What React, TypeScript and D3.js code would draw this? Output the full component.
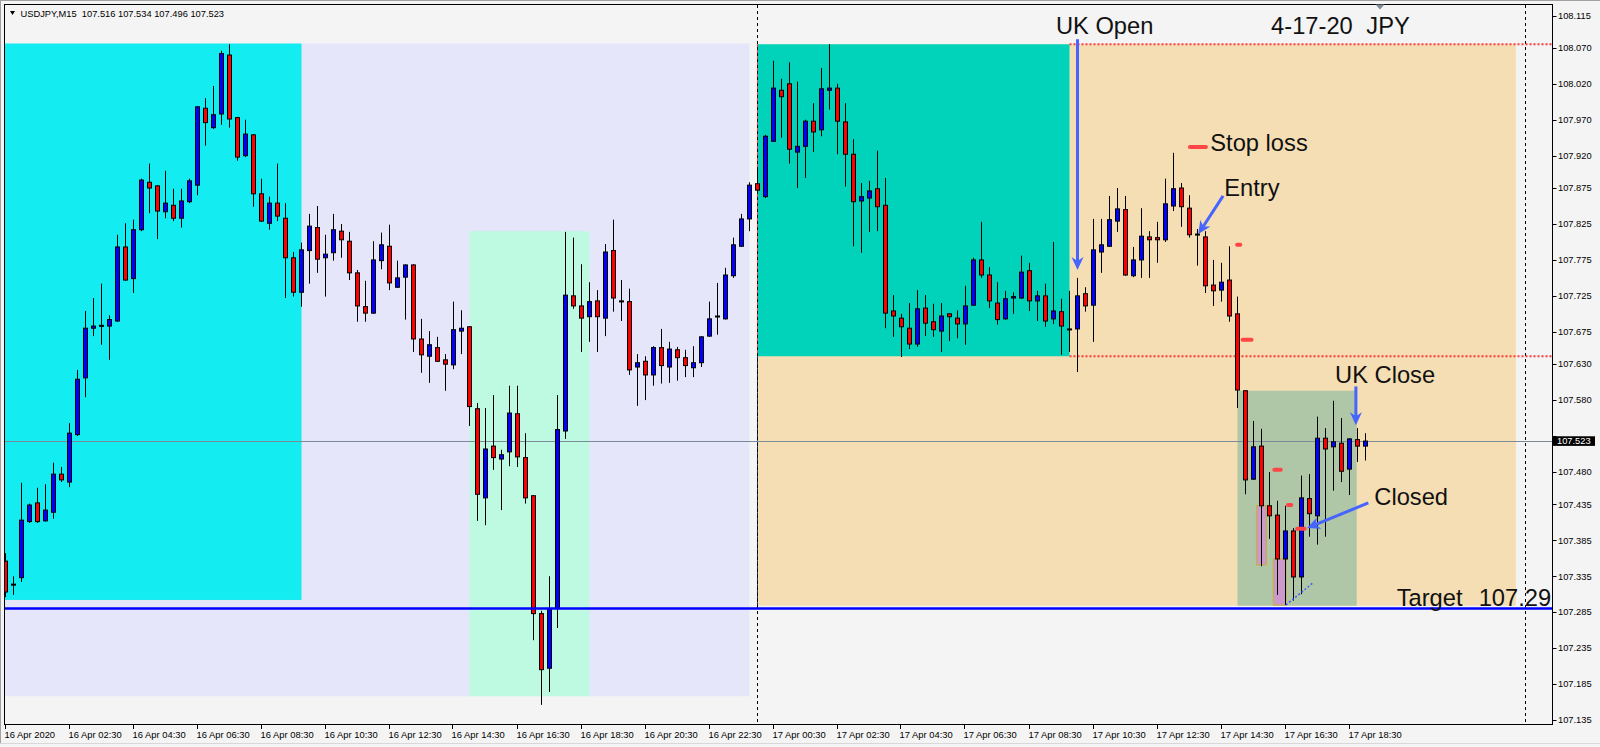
import React from 'react';
import * as d3 from 'd3';

// ---- Data: USDJPY M15, 16 Apr 00:30 -> 17 Apr 19:00 (bar index = 15-minute step) ----
const openP = [107.356,107.324,107.333,107.411,107.437,107.412,107.424,107.477,107.466,107.532,
107.611,107.680,107.683,107.683,107.690,107.793,107.749,107.817,107.883,107.878,
107.842,107.851,107.833,107.856,107.879,107.986,107.959,107.978,108.060,107.973,
107.920,107.949,107.867,107.826,107.854,107.833,107.778,107.730,107.788,107.820,
107.778,107.785,107.815,107.801,107.757,107.710,107.701,107.774,107.794,107.737,
107.751,107.768,107.665,107.641,107.653,107.636,107.629,107.676,107.682,107.568,
107.444,107.516,107.498,107.508,107.561,107.500,107.447,107.283,107.207,107.290,
107.537,107.725,107.711,107.696,107.718,107.694,107.788,107.718,107.717,107.626,
107.634,107.615,107.653,107.626,107.650,107.639,107.625,107.632,107.669,107.696,
107.693,107.753,107.794,107.832,107.881,107.863,107.940,108.011,108.020,107.925,
107.933,107.968,107.956,108.011,108.014,107.967,107.922,107.857,107.861,107.874,
107.851,107.704,107.694,107.680,107.658,107.708,107.689,107.676,107.700,107.694,
107.686,107.712,107.775,107.754,107.715,107.693,107.722,107.722,107.760,107.718,
107.725,107.693,107.703,107.679,107.679,107.728,107.712,107.786,107.794,107.829,
107.845,107.753,107.775,107.807,107.806,107.803,107.850,107.875,107.847,107.810,
107.807,107.740,107.733,107.747,107.700,107.593,107.470,107.516,107.433,107.420,
107.359,107.398,107.334,107.443,107.419,107.527,107.515,107.520,107.484,107.525,
107.516];

const highP = [107.367,107.335,107.465,107.436,107.458,107.463,107.493,107.487,107.548,107.622,
107.704,107.722,107.742,107.698,107.810,107.826,107.831,107.888,107.909,107.879,
107.899,107.874,107.874,107.888,107.989,108.000,108.017,108.066,108.075,107.974,
107.970,107.950,107.888,107.863,107.909,107.854,107.786,107.799,107.839,107.850,
107.810,107.839,107.825,107.814,107.761,107.746,107.801,107.813,107.824,107.774,
107.769,107.769,107.693,107.676,107.668,107.644,107.717,107.705,107.683,107.576,
107.569,107.587,107.511,107.600,107.600,107.534,107.448,107.287,107.335,107.587,
107.814,107.806,107.769,107.744,107.733,107.797,107.831,107.747,107.735,107.644,
107.641,107.655,107.679,107.661,107.654,107.650,107.655,107.669,107.717,107.743,
107.764,107.806,107.839,107.883,107.902,107.949,108.052,108.027,108.050,108.023,
107.970,107.993,108.042,108.075,108.020,107.993,107.943,107.882,107.885,107.927,
107.889,107.726,107.700,107.715,107.733,107.726,107.714,107.715,107.701,107.705,
107.739,107.778,107.828,107.765,107.744,107.732,107.730,107.781,107.771,107.732,
107.742,107.800,107.721,107.732,107.750,107.737,107.832,107.832,107.864,107.875,
107.864,107.793,107.847,107.815,107.828,107.888,107.924,107.882,107.865,107.818,
107.815,107.775,107.771,107.794,107.724,107.594,107.551,107.540,107.480,107.440,
107.433,107.402,107.475,107.477,107.557,107.541,107.579,107.555,107.527,107.541,
107.534];

const lowP = [107.306,107.309,107.327,107.409,107.409,107.411,107.415,107.466,107.459,107.530,
107.584,107.669,107.657,107.636,107.689,107.746,107.729,107.815,107.840,107.804,
107.833,107.829,107.820,107.854,107.865,107.934,107.957,107.963,107.959,107.913,
107.918,107.849,107.828,107.817,107.829,107.722,107.724,107.710,107.742,107.757,
107.724,107.774,107.778,107.747,107.689,107.689,107.700,107.762,107.733,107.736,
107.692,107.647,107.618,107.604,107.633,107.593,107.623,107.644,107.544,107.412,
107.406,107.483,107.427,107.488,107.487,107.436,107.246,107.156,107.174,107.263,
107.526,107.707,107.647,107.661,107.647,107.669,107.703,107.690,107.615,107.572,
107.580,107.600,107.603,107.604,107.607,107.612,107.612,107.626,107.668,107.671,
107.692,107.750,107.793,107.815,107.871,107.861,107.939,107.945,107.909,107.875,
107.889,107.925,107.947,107.984,107.922,107.877,107.794,107.785,107.814,107.815,
107.680,107.668,107.640,107.651,107.654,107.669,107.668,107.647,107.662,107.666,
107.657,107.711,107.750,107.708,107.685,107.692,107.700,107.721,107.704,107.690,
107.682,107.686,107.643,107.647,107.619,107.703,107.661,107.757,107.793,107.814,
107.753,107.751,107.750,107.750,107.771,107.800,107.843,107.821,107.806,107.767,
107.729,107.711,107.717,107.689,107.569,107.449,107.469,107.349,107.387,107.309,
107.295,107.301,107.310,107.390,107.379,107.390,107.454,107.466,107.448,107.494,
107.496];

const closeP = [107.313,107.323,107.413,107.434,107.411,107.427,107.477,107.469,107.534,107.609,
107.680,107.683,107.684,107.692,107.793,107.747,107.817,107.886,107.875,107.843,
107.854,107.833,107.857,107.885,107.988,107.966,107.977,108.062,107.971,107.918,
107.950,107.867,107.829,107.854,107.836,107.778,107.730,107.789,107.822,107.776,
107.783,107.817,107.803,107.757,107.711,107.701,107.775,107.796,107.743,107.750,
107.768,107.665,107.643,107.657,107.634,107.630,107.678,107.680,107.571,107.449,
107.512,107.500,107.504,107.562,107.501,107.444,107.283,107.205,107.290,107.539,
107.726,107.711,107.694,107.717,107.696,107.786,107.722,107.717,107.622,107.632,
107.615,107.653,107.628,107.651,107.639,107.628,107.632,107.668,107.693,107.697,
107.754,107.796,107.832,107.879,107.872,107.947,108.014,108.002,107.929,107.933,
107.968,107.953,108.013,108.014,107.968,107.922,107.856,107.863,107.871,107.849,
107.701,107.697,107.682,107.658,107.707,107.687,107.678,107.697,107.696,107.686,
107.711,107.775,107.754,107.718,107.692,107.721,107.724,107.758,107.718,107.725,
107.690,107.704,107.683,107.678,107.725,107.711,107.789,107.796,107.831,107.846,
107.754,107.775,107.808,107.803,107.803,107.853,107.874,107.849,107.810,107.811,
107.739,107.732,107.744,107.697,107.594,107.469,107.515,107.433,107.419,107.359,
107.398,107.334,107.444,107.422,107.527,107.512,107.522,107.481,107.526,107.516,
107.523];

const timeLabels = ["16 Apr 2020","16 Apr 02:30","16 Apr 04:30","16 Apr 06:30","16 Apr 08:30",
"16 Apr 10:30","16 Apr 12:30","16 Apr 14:30","16 Apr 16:30","16 Apr 18:30","16 Apr 20:30",
"16 Apr 22:30","17 Apr 00:30","17 Apr 02:30","17 Apr 04:30","17 Apr 06:30","17 Apr 08:30",
"17 Apr 10:30","17 Apr 12:30","17 Apr 14:30","17 Apr 16:30","17 Apr 18:30"];
const timeLabelBars = [0,8,16,24,32,40,48,56,64,72,80,88,96,104,112,120,128,136,144,152,160,168];

const priceTicks = [108.115,108.070,108.020,107.970,107.920,107.875,107.825,107.775,107.725,
107.675,107.630,107.580,107.530,107.480,107.435,107.385,107.335,107.285,107.235,107.185,107.135];

const headerText = "USDJPY,M15  107.516 107.534 107.496 107.523";
const lastPrice = 107.523;
const targetPrice = 107.29;
const rangeHigh = 108.075;
const rangeLow = 107.641;
const rangeStartBar = 133;
const daySeparatorBar = 94;
const shiftBar = 190;

// zones: [startBar, endBar, topPrice, bottomPrice]
const zoneLavender = [-3, 93, 108.076, 107.168];
const zoneCyan = [-3, 37, 108.076, 107.302];
const zoneMint = [58, 73, 107.815, 107.168];
const zoneWheat = [94, 188.8, 108.075, 107.294];
const zoneTeal = [94, 133, 108.075, 107.641];
const zoneSage = [154, 168.9, 107.593, 107.294];
const wickBoxes = [[156.4, 157.6, 107.433, 107.351], [158.5, 160.06, 107.359, 107.295]];

// price-label dashes: [startBar, endBar, price]
const priceMarks = [[147.8, 150.3, 107.932], [153.7, 154.6, 107.796], [154.4, 156.0, 107.664],
  [158.35, 159.65, 107.483], [160.06, 160.98, 107.434], [161.2, 162.65, 107.401]];

// arrows: [tailBar, tailPrice, tipBar, tipPrice]
const arrows = [[134.0, 108.082, 134.0, 107.761], [152.2, 107.864, 149.1, 107.811],
  [168.8, 107.599, 168.8, 107.545], [170.35, 107.437, 162.7, 107.402]];

// labels: [text, bar, price(baseline), anchor]
const labels: [string, number, number, string][] = [
  ["UK Open", 131.3, 108.089, "start"], ["4-17-20", 158.2, 108.089, "start"], ["JPY", 170.1, 108.089, "start"],
  ["Stop loss", 150.6, 107.927, "start"], ["Entry", 152.35, 107.864, "start"],
  ["UK Close", 166.2, 107.604, "start"], ["Closed", 171.1, 107.434, "start"],
  ["Target", 173.9, 107.294, "start"], ["107.29", 193.2, 107.294, "end"]];

const dottedTrend = [160.06, 107.295, 163.35, 107.325];

const FONT = "'Liberation Sans', Arial, sans-serif";

export default function App() {
  const x = d3.scaleLinear().domain([0, shiftBar]).range([5.5, 1525.5]);
  const y = d3.scaleLinear().domain([107.135, 108.115]).range([720, 15.5]);
  const L = 4.5, T = 4.5, R = 1552.5, B = 724.5;

  const zoneRect = (z: number[], fill: string, key: string) => (
    <rect key={key} x={x(z[0])} y={y(z[2])} width={x(z[1]) - x(z[0])} height={y(z[3]) - y(z[2])} fill={fill} />
  );

  const arrowEl = (a: number[], i: number) => {
    const x1 = x(a[0]), y1 = y(a[1]), x2 = x(a[2]), y2 = y(a[3]);
    const dx = x2 - x1, dy = y2 - y1, len = Math.hypot(dx, dy);
    const ux = dx / len, uy = dy / len, nx = -uy, ny = ux;
    const hl = 13, hw = 6;
    const bx = x2 - ux * hl, by = y2 - uy * hl;
    const nxp = x2 - ux * (hl - 4), nyp = y2 - uy * (hl - 4);
    const pts = [[x2, y2], [bx + nx * hw, by + ny * hw], [nxp, nyp], [bx - nx * hw, by - ny * hw]];
    return (
      <g key={"ar" + i}>
        <line x1={x1} y1={y1} x2={nxp} y2={nyp} stroke="#4664FF" strokeWidth={3} />
        <polygon points={pts.map(p => p.join(",")).join(" ")} fill="#4664FF" />
      </g>
    );
  };

  const sepX = Math.round(x(daySeparatorBar)) + 0.5 - 1;
  const shiftX = Math.round(x(shiftBar)) - 0.5;

  return (
    <svg width={1600} height={747} style={{ position: "absolute", left: 0, top: 0, display: "block" }}
      fontFamily={FONT}>
      <defs>
        <clipPath id="plot"><rect x={5} y={5} width={1547} height={719} /></clipPath>
      </defs>
      <rect x={0} y={0} width={1600} height={747} fill="#F4F4F4" />
      <line x1={0} x2={1600} y1={0.5} y2={0.5} stroke="#A0A0A0" />
      <line x1={0.5} x2={0.5} y1={0} y2={743} stroke="#A0A0A0" />
      <line x1={0} x2={1600} y1={743.5} y2={743.5} stroke="#D8D8D8" />

      <g clipPath="url(#plot)">
        {zoneRect(zoneLavender, "#E6E6FA", "lav")}
        {zoneRect(zoneCyan, "#13ECF0", "cy")}
        {zoneRect(zoneMint, "#BEFAE2", "mint")}
        {zoneRect(zoneWheat, "#F5DEB3", "wh")}
        {zoneRect(zoneTeal, "#00D3B9", "teal")}
        {zoneRect(zoneSage, "#AFC6A7", "sage")}

        {/* day separator (inverted colour) */}
        <line x1={sepX} x2={sepX} y1={5} y2={B} stroke="#000" strokeDasharray="3,3" />
        <line x1={sepX} x2={sepX} y1={y(zoneTeal[2])} y2={y(zoneTeal[3])} stroke="#FF2C46" strokeDasharray="3,3" />
        <line x1={sepX} x2={sepX} y1={y(zoneTeal[3])} y2={y(zoneWheat[3])} stroke="#0A214C" strokeDasharray="3,3" />
        <line x1={shiftX} x2={shiftX} y1={5} y2={B} stroke="#000" strokeDasharray="3,3" />

        {/* range lines */}
        {[rangeHigh, rangeLow].map((p, i) => (
          <line key={"rl" + i} x1={x(rangeStartBar)} x2={R} y1={y(p)} y2={y(p)} stroke="#FF3B3B" strokeWidth={2} strokeDasharray="2,2" />
        ))}
        <line x1={L} x2={R} y1={Math.round(y(lastPrice)) + 0.5} y2={Math.round(y(lastPrice)) + 0.5} stroke="#7A8A99" />

        {wickBoxes.map((b, i) => (
          <rect key={"wb" + i} x={x(b[0])} y={y(b[2])} width={x(b[1]) - x(b[0])} height={y(b[3]) - y(b[2])}
            fill="#CC99CC" stroke="#C8AC5C" strokeWidth={1.5} />
        ))}

        {/* candles */}
        {openP.map((o, i) => {
          const c = closeP[i];
          const cx = x(i);
          const yo = y(o), yc = y(c);
          const top = Math.min(yo, yc);
          const h = Math.max(Math.abs(yo - yc), 1);
          const col = c >= o ? "#0000FF" : "#FF0000";
          return (
            <g key={"c" + i}>
              <line x1={cx} x2={cx} y1={y(highP[i])} y2={y(lowP[i])} stroke="#000" strokeWidth={1} />
              <rect x={cx - 2} y={top} width={4} height={h} fill={col} stroke="#000" strokeWidth={1} />
            </g>
          );
        })}

        <line x1={L} x2={R} y1={y(targetPrice)} y2={y(targetPrice)} stroke="#0000FF" strokeWidth={2.5} />

        <line x1={x(dottedTrend[0])} y1={y(dottedTrend[1])} x2={x(dottedTrend[2])} y2={y(dottedTrend[3])}
          stroke="#3A5AFF" strokeWidth={1.5} strokeDasharray="2,2" />

        {priceMarks.map((m, i) => (
          <line key={"pm" + i} x1={x(m[0]) + 2} x2={x(m[1]) - 2} y1={y(m[2])} y2={y(m[2])}
            stroke="#FF4545" strokeWidth={4} strokeLinecap="round" />
        ))}
      </g>

      {arrows.map(arrowEl)}

      {labels.map((l, i) => (
        <text key={"lb" + i} x={x(l[1])} y={y(l[2])} fontSize={23.7} fill="#111" textAnchor={l[3]}>{l[0]}</text>
      ))}

      {/* frame */}
      <rect x={L} y={T} width={R - L} height={B - T} fill="none" stroke="#000" strokeWidth={1} />
      <polygon points="1375.5,4.5 1384.5,4.5 1380,9.5" fill="#7F8C99" />

      {/* header */}
      <polygon points="10,11 15,11 12.5,15" fill="#000" />
      <text x={20.5} y={16.5} fontSize={9.3} fill="#000" style={{ whiteSpace: "pre" }}>{headerText}</text>

      {/* price axis */}
      {priceTicks.map((p, i) => (
        <g key={"pt" + i}>
          <line x1={R} x2={R + 4} y1={Math.round(y(p)) + 0.5} y2={Math.round(y(p)) + 0.5} stroke="#000" />
          {Math.abs(y(p) - y(lastPrice)) > 10 &&
            <text x={1558} y={y(p) + 3.3} fontSize={9.3} fill="#000">{p.toFixed(3)}</text>}
        </g>
      ))}
      <rect x={1553} y={y(lastPrice) - 4.8} width={42} height={9.6} fill="#000" />
      <text x={1557} y={y(lastPrice) + 3.3} fontSize={9.3} fill="#fff">{lastPrice.toFixed(3)}</text>

      {/* time axis */}
      {timeLabels.map((t, i) => {
        const tx = Math.round(x(timeLabelBars[i])) - 0.5;
        return (
          <g key={"tl" + i}>
            <line x1={tx} x2={tx} y1={B} y2={B + 4.5} stroke="#000" />
            <text x={tx - 1} y={737.5} fontSize={9.4} fill="#000">{t}</text>
          </g>
        );
      })}
    </svg>
  );
}
